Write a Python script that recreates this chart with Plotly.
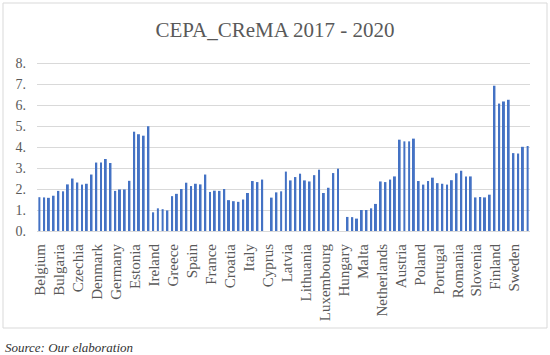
import plotly.graph_objects as go

countries = ["Belgium", "Bulgaria", "Czechia", "Denmark", "Germany", "Estonia", "Ireland",
             "Greece", "Spain", "France", "Croatia", "Italy", "Cyprus", "Latvia", "Lithuania",
             "Luxembourg", "Hungary", "Malta", "Netherlands", "Austria", "Poland", "Portugal",
             "Romania", "Slovenia", "Finland", "Sweden"]

years = ["2017", "2018", "2019", "2020"]

v2017 = [1.61, 1.91, 2.31, 3.26, 1.91, 4.73, 0.89, 1.66, 2.14, 1.86, 1.47, 1.81, None,
         2.83, 2.41, 1.81, None, 1.00, 2.36, 4.35, 2.38, 2.28, 2.75, 1.60, 6.92, 3.71]
v2018 = [1.60, 1.89, 2.21, 3.26, 1.98, 4.61, 1.08, 1.77, 2.25, 1.92, 1.42, 2.38, 1.59,
         2.41, 2.36, 2.06, 0.67, 1.00, 2.33, 4.27, 2.21, 2.25, 2.87, 1.62, 6.07, 3.69]
v2019 = [1.58, 2.22, 2.25, 3.43, 1.98, 4.54, 1.04, 2.00, 2.22, 1.91, 1.39, 2.33, 1.84,
         2.57, 2.66, 2.76, 0.66, 1.08, 2.45, 4.27, 2.38, 2.21, 2.60, 1.60, 6.17, 4.01]
v2020 = [1.68, 2.50, 2.69, 3.24, 2.39, 4.99, 0.98, 2.30, 2.69, 2.00, 1.50, 2.45, 1.89,
         2.73, 2.92, 2.97, 0.59, 1.29, 2.60, 4.40, 2.54, 2.42, 2.60, 1.73, 6.25, 4.05]

series = [v2017, v2018, v2019, v2020]

y_ticks = [0, 1, 2, 3, 4, 5, 6, 7, 8]
y_ticktext = ["0.", "1.", "2.", "3.", "4.", "5.", "6.", "7.", "8."]

BAR = "#4472C4"
FONT = "Liberation Serif"
GRAY = "#595959"

fig = go.Figure()
for yr, vals in zip(years, series):
    fig.add_trace(go.Bar(x=countries, y=vals, name=yr, marker=dict(color=BAR, line=dict(width=0)),
                         showlegend=False))

fig.update_layout(
    width=550, height=355,
    margin=dict(l=37, r=20, t=62, b=124),
    paper_bgcolor="white", plot_bgcolor="white",
    barmode="group", bargap=0, bargroupgap=0.58,
    title=dict(text="CEPA_CReMA 2017 - 2020", x=0.5, xanchor="center", xref="container",
               y=1 - 30 / 355, yanchor="middle", yref="container",
               font=dict(family=FONT, size=21, color=GRAY)),
    font=dict(family=FONT, color=GRAY),
)

fig.update_xaxes(type="category", tickangle=-90, tickfont=dict(family=FONT, size=15, color=GRAY),
                 showgrid=False, showline=True, linecolor="#d9d9d9", linewidth=1,
                 ticks="", ticklabelstandoff=6, ticklabelshift=-6, automargin=False)
fig.update_yaxes(range=[0, 8.05], tickvals=y_ticks, ticktext=y_ticktext,
                 tickfont=dict(family=FONT, size=14, color=GRAY),
                 showgrid=True, gridcolor="#d9d9d9", gridwidth=1, zeroline=False,
                 ticks="", ticklabelstandoff=10, automargin=False)

# chart border
fig.add_shape(type="rect", xref="paper", yref="paper",
              x0=-34 / 493, x1=510 / 493, y0=-97 / 169, y1=228 / 169,
              line=dict(color="#d9d9d9", width=1), fillcolor="rgba(0,0,0,0)", layer="below")

fig.add_annotation(text="<i>Source: Our elaboration</i>", xref="paper", yref="paper",
                   x=-34 / 493, y=-116 / 169, xanchor="left", yanchor="middle", showarrow=False,
                   font=dict(family=FONT, size=13, color="#333333"))

fig.write_html("out.html", config={"displayModeBar": False},
               post_script="document.body.style.margin='0';")
